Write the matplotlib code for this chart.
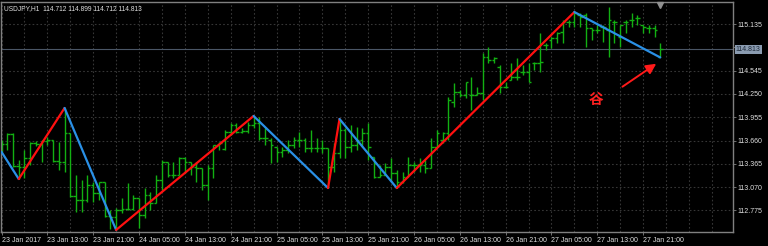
import matplotlib
matplotlib.use("Agg")
import matplotlib.pyplot as plt
import matplotlib.transforms as mtransforms

# USDJPY H1 bars, oldest first
opens = [113.566, 113.616, 113.743, 113.338, 113.325, 113.439, 113.629, 113.616, 113.654, 113.667,
         113.401, 113.388, 113.756, 112.958, 112.907, 112.907, 113.097, 112.996, 113.135, 112.705,
         112.692, 112.781, 112.794, 112.794, 112.933, 112.718, 112.971, 112.869, 113.161, 113.388,
         113.224, 113.224, 113.439, 113.388, 113.325, 113.312, 113.097, 113.312, 113.604, 113.553,
         113.768, 113.857, 113.768, 113.781, 113.857, 113.882, 113.692, 113.667, 113.578, 113.515,
         113.540, 113.604, 113.667, 113.667, 113.566, 113.566, 113.566, 113.566, 113.325, 113.502,
         113.793, 113.578, 113.604, 113.667, 113.756, 113.452, 113.199, 113.224, 113.325, 113.249,
         113.135, 113.199, 113.350, 113.350, 113.350, 113.312, 113.578, 113.667, 113.756, 114.148,
         114.274, 114.236, 114.236, 114.236, 114.262, 114.717, 114.680, 114.591, 114.338, 114.426,
         114.464, 114.528, 114.528, 114.642, 114.642, 114.869, 114.933, 114.958, 115.034, 115.160,
         115.160, 115.249, 115.249, 115.085, 115.059, 115.097, 115.059, 115.160, 114.971, 115.160,
         115.186, 115.211, 115.122, 115.085, 115.085, 114.712]
highs = [113.667, 113.756, 113.756, 113.414, 113.540, 113.642, 113.654, 113.667, 113.705, 113.667,
         113.642, 114.072, 113.756, 113.224, 113.161, 113.224, 113.135, 113.135, 113.135, 112.781,
         112.806, 112.933, 113.123, 112.971, 112.933, 113.059, 113.009, 113.224, 113.414, 113.388,
         113.388, 113.452, 113.452, 113.388, 113.388, 113.312, 113.350, 113.604, 113.642, 113.793,
         113.882, 113.882, 113.819, 113.895, 113.971, 113.958, 113.819, 113.692, 113.578, 113.578,
         113.667, 113.705, 113.768, 113.692, 113.793, 113.692, 113.667, 113.566, 113.629, 113.933,
         113.819, 113.857, 113.831, 113.819, 113.882, 113.452, 113.350, 113.376, 113.439, 113.287,
         113.262, 113.452, 113.388, 113.439, 113.414, 113.692, 113.793, 113.768, 114.211, 114.388,
         114.300, 114.401, 114.464, 114.338, 114.768, 114.844, 114.717, 114.616, 114.401, 114.642,
         114.705, 114.616, 114.642, 114.654, 115.021, 114.895, 114.971, 115.034, 115.186, 115.186,
         115.287, 115.274, 115.274, 115.085, 115.122, 115.122, 115.350, 115.186, 115.122, 115.186,
         115.274, 115.249, 115.122, 115.122, 115.122, 114.899]
lows = [113.515, 113.540, 113.325, 113.173, 113.186, 113.350, 113.591, 113.388, 113.604, 113.388,
        113.287, 113.262, 112.945, 112.756, 112.756, 112.882, 112.882, 112.907, 112.692, 112.540,
        112.528, 112.743, 112.781, 112.781, 112.553, 112.680, 112.781, 112.869, 113.034, 113.199,
        113.186, 113.224, 113.249, 113.224, 113.135, 113.034, 112.907, 113.186, 113.540, 113.540,
        113.730, 113.756, 113.756, 113.756, 113.819, 113.667, 113.604, 113.376, 113.388, 113.452,
        113.502, 113.566, 113.578, 113.515, 113.515, 113.515, 113.502, 113.059, 113.262, 113.439,
        113.439, 113.515, 113.540, 113.578, 113.414, 113.186, 113.199, 113.224, 113.135, 113.059,
        113.123, 113.199, 113.262, 113.262, 113.249, 113.312, 113.578, 113.629, 113.667, 114.085,
        114.211, 114.198, 114.047, 114.236, 114.173, 114.642, 114.642, 114.262, 114.325, 114.426,
        114.426, 114.490, 114.401, 114.553, 114.528, 114.806, 114.831, 114.895, 114.895, 115.097,
        115.097, 115.097, 114.844, 114.933, 115.021, 114.907, 114.717, 114.895, 114.844, 115.021,
        115.097, 115.122, 115.021, 115.021, 114.971, 114.712]
closes = [113.616, 113.743, 113.338, 113.325, 113.439, 113.629, 113.616, 113.654, 113.667, 113.401,
          113.388, 113.756, 112.958, 112.907, 112.907, 113.097, 112.996, 113.135, 112.705, 112.692,
          112.781, 112.794, 112.794, 112.933, 112.718, 112.971, 112.869, 113.161, 113.388, 113.224,
          113.224, 113.439, 113.388, 113.325, 113.312, 113.097, 113.312, 113.604, 113.629, 113.768,
          113.857, 113.768, 113.781, 113.857, 113.882, 113.692, 113.692, 113.604, 113.515, 113.540,
          113.604, 113.667, 113.667, 113.566, 113.566, 113.566, 113.566, 113.325, 113.502, 113.793,
          113.578, 113.604, 113.667, 113.756, 113.578, 113.199, 113.224, 113.325, 113.249, 113.135,
          113.199, 113.350, 113.350, 113.350, 113.312, 113.578, 113.756, 113.756, 114.173, 114.274,
          114.236, 114.401, 114.236, 114.262, 114.717, 114.680, 114.705, 114.338, 114.338, 114.464,
          114.464, 114.528, 114.401, 114.642, 114.654, 114.869, 114.958, 115.021, 115.160, 115.160,
          115.274, 115.224, 115.085, 115.059, 115.059, 115.097, 115.186, 115.160, 115.122, 115.160,
          115.186, 115.211, 115.097, 115.085, 115.059, 114.813]

# zigzag pivots (bar index, price)
zz_idx = [0, 3, 11, 20, 44, 57, 59, 69, 100, 115]
zz_price = [113.515, 113.173, 114.072, 112.528, 113.971, 113.059, 113.933, 113.059, 115.287, 114.712]

price_ticks = [112.775, 113.070, 113.365, 113.660, 113.955, 114.250, 114.545, 114.840, 115.135]
time_labels = ["23 Jan 2017", "23 Jan 13:00", "23 Jan 21:00", "24 Jan 05:00", "24 Jan 13:00",
               "24 Jan 21:00", "25 Jan 05:00", "25 Jan 13:00", "25 Jan 21:00", "26 Jan 05:00",
               "26 Jan 13:00", "26 Jan 21:00", "27 Jan 05:00", "27 Jan 13:00", "27 Jan 21:00"]
header = "USDJPY,H1  114.712 114.899 114.712 114.813"
bid = closes[-1]

BG = "black"
GRID = "#363636"
FRAME = "#808080"
BAR = "#12b012"
UP = "#ff1010"
DOWN = "#2a90e6"
TXT = "#e0e0e0"

plt.rcParams['font.family'] = ['Liberation Sans', 'DejaVu Sans']

fig = plt.figure(figsize=(7.68, 2.46), dpi=100, facecolor=BG)
ax = fig.add_axes([1 / 768, 14 / 246, 732 / 768, 230 / 246], facecolor=BG)

n = len(closes)
xs = list(range(n))
ax.set_xlim(-0.1, 127.7)
ax.set_ylim(112.502, 115.414)

# grid
for p in price_ticks:
    if p != 114.840:
        ax.axhline(p, color=GRID, lw=0.8, ls=(0, (1.5, 2)), zorder=0)
for i in range(0, 128, 4):
    ax.axvline(i, color=GRID, lw=0.8, ls=(0, (1.5, 2)), zorder=0)

# OHLC bars
ax.vlines(xs, lows, highs, color=BAR, lw=1.0, zorder=2)
ax.hlines(opens, [x - 0.45 for x in xs], xs, color=BAR, lw=1.0, zorder=2)
ax.hlines(closes, xs, [x + 0.45 for x in xs], color=BAR, lw=1.0, zorder=2)

# zigzag
for k in range(len(zz_idx) - 1):
    c = UP if zz_price[k + 1] > zz_price[k] else DOWN
    ax.plot(zz_idx[k:k + 2], zz_price[k:k + 2], color=c, lw=1.6, zorder=3,
            solid_capstyle='round')

# bid line
ax.axhline(bid, color="#4a5666", lw=0.8, zorder=1)

# arrow + label near last bar
last = n - 1
ax.annotate("", xy=(last - 0.3, lows[-1] - 0.06), xytext=(last - 7, lows[-1] - 0.39),
            arrowprops=dict(arrowstyle="-|>,head_length=0.6,head_width=0.3",
                            color="#ff1a1a", lw=1.4), zorder=4)
ax.text(last - 11.2, lows[-1] - 0.53, "谷", color="#ff2020", fontsize=10.5,
        family=['Noto Sans CJK SC', 'DejaVu Sans'], ha="center", va="center",
        fontweight="bold", zorder=4)

# shift marker at top
xtrans = mtransforms.blended_transform_factory(ax.transData, ax.transAxes)
ax.plot([last], [0.985], marker="v", color="#909090", ms=5, transform=xtrans,
        clip_on=False, zorder=5)

# axes styling
for s in ax.spines.values():
    s.set_color(FRAME)
    s.set_linewidth(1.0)

ax.yaxis.tick_right()
ax.set_yticks(price_ticks)
ax.set_yticklabels([f"{p:.3f}" if p != 114.840 else "" for p in price_ticks])
ax.tick_params(axis='y', colors=FRAME, labelcolor=TXT, labelsize=5, length=2.5, width=0.6, pad=1)

ax.set_xticks(range(0, 8 * len(time_labels), 8))
ax.set_xticklabels(time_labels)
ax.tick_params(axis='x', colors=FRAME, labelcolor=TXT, labelsize=5, length=2, width=0.6, pad=1.5)
for t in ax.get_xticklabels():
    t.set_horizontalalignment('left')

# bid price box on the right axis
ytrans = mtransforms.blended_transform_factory(ax.transAxes, ax.transData)
ax.text(1.004, bid, f"{bid:.3f}", transform=ytrans, color="#1c2838", fontsize=5,
        ha="left", va="center", zorder=6, clip_on=False,
        bbox=dict(boxstyle="square,pad=0.2", facecolor="#8a9bb0", edgecolor="none"))

fig.text(4 / 768, 1 - 9 / 246, header, color=TXT, fontsize=4.8, ha="left", va="center")

fig.savefig("out.png", dpi=100, facecolor=BG)
